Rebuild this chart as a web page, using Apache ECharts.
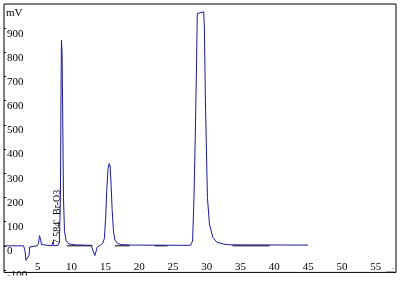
<!DOCTYPE html>
<html>
<head>
<meta charset="utf-8">
<script src="https://cdn.jsdelivr.net/npm/echarts@6/dist/echarts.min.js"></script>
<style>html,body{margin:0;padding:0;background:#fff}#c{width:402px;height:281px}</style>
</head>
<body>
<div id="c"></div>
<script>
// Retention time (min) and detector signal (mV)
const retentionTimes = [0, 2.9, 3.1, 3.25, 3.5, 3.7, 3.8, 4.0, 4.9, 5.1, 5.25, 5.4, 5.55, 5.8, 7.1, 7.2, 7.3, 8.0, 8.2, 8.35, 8.45, 8.5, 8.6, 8.7, 8.8, 8.95, 9.2, 9.6, 10.5, 12.9, 13.1, 13.3, 13.45, 13.6, 13.8, 14.0, 14.3, 14.6, 14.85, 15.05, 15.2, 15.4, 15.55, 15.7, 15.85, 16.0, 16.2, 16.4, 16.8, 17.3, 19.0, 27.6, 27.9, 28.1, 28.3, 28.5, 28.6, 28.7, 29.55, 29.65, 29.8, 30.1, 30.4, 30.9, 31.5, 32.5, 33.5, 45.0];
const signalMv =       [0, 0,   -20, -60,  -62, -40, -5,  0,   0,   10,  42,   30,  5,    0,   0,   15,  0,   2,   15,  200,  700,  850, 790, 500, 200, 60,   20,  8,   4,    2,    -5,   -30,  -40,   -25,  -5,   2,    3,    10,   30,    120,   230,  320,  340,   330,  250,   150,  60,   25,   10,   5,    3,    2,    20,   190,  450,  770,  960,  968,  968,   900,   600,  200,  90,   35,   15,   7,    4,    3];
// Integration baseline segments (start, end) in minutes
const baselineSegments = [[9.3, 13.1], [16.4, 18.6], [22.3, 24.2], [33.8, 39.3]];
const xTickValues = [5, 10, 15, 20, 25, 30, 35, 40, 45, 50, 55];
const yTickValues = [-100, 0, 100, 200, 300, 400, 500, 600, 700, 800, 900];
const peakLabel = "7.584'  Br-O3";

const trace = retentionTimes.map((t, i) => [t, signalMv[i]]);
const baseData = [];
baselineSegments.forEach(s => { baseData.push([s[0], 0], [s[1], 0], [null, null]); });

const chart = echarts.init(document.getElementById('c'), null, {renderer: 'canvas'});
const font = 'Liberation Serif';
chart.setOption({
  animation: false,
  backgroundColor: '#fff',
  grid: {left: 4, right: 6, top: 4, bottom: 6, show: true, borderColor: '#000', borderWidth: 1, backgroundColor: 'transparent'},
  xAxis: {
    type: 'value', min: 0, max: 58,
    axisLine: {show: false}, splitLine: {show: false},
    axisTick: {show: false},
    axisLabel: {inside: true, margin: 0, customValues: xTickValues, color: '#000', fontFamily: font, fontSize: 11}
  },
  yAxis: {
    type: 'value', min: -110, max: 1000,
    axisLine: {show: false}, splitLine: {show: false},
    axisTick: {show: true, inside: true, length: 2, customValues: yTickValues, lineStyle: {color: '#000'}},
    axisLabel: {inside: true, margin: 3, customValues: yTickValues, verticalAlign: 'top', color: '#000', fontFamily: font, fontSize: 11}
  },
  series: [
    {type: 'line', data: baseData, symbol: 'none', lineStyle: {color: '#000', width: 1}, z: 2, connectNulls: false},
    {type: 'line', data: trace, symbol: 'none', lineStyle: {color: '#1a1a9a', width: 1}, z: 3}
  ],
  graphic: [
    {type: 'text', left: 6, top: 8, style: {text: 'mV', font: '11px "Liberation Serif"', fill: '#000'}},
    {type: 'text', x: 57.5, y: 217, rotation: Math.PI / 2, style: {text: peakLabel, font: '10px "Liberation Serif"', fill: '#000', align: 'center', verticalAlign: 'middle'}},
    {type: 'text', x: 386, y: 266, style: {text: '...:', font: '8px "Liberation Serif"', fill: '#000'}},
    {type: 'rect', shape: {x: 0, y: 275.5, width: 402, height: 6}, style: {fill: '#fff'}, z: 100}
  ]
});
</script>
</body>
</html>
